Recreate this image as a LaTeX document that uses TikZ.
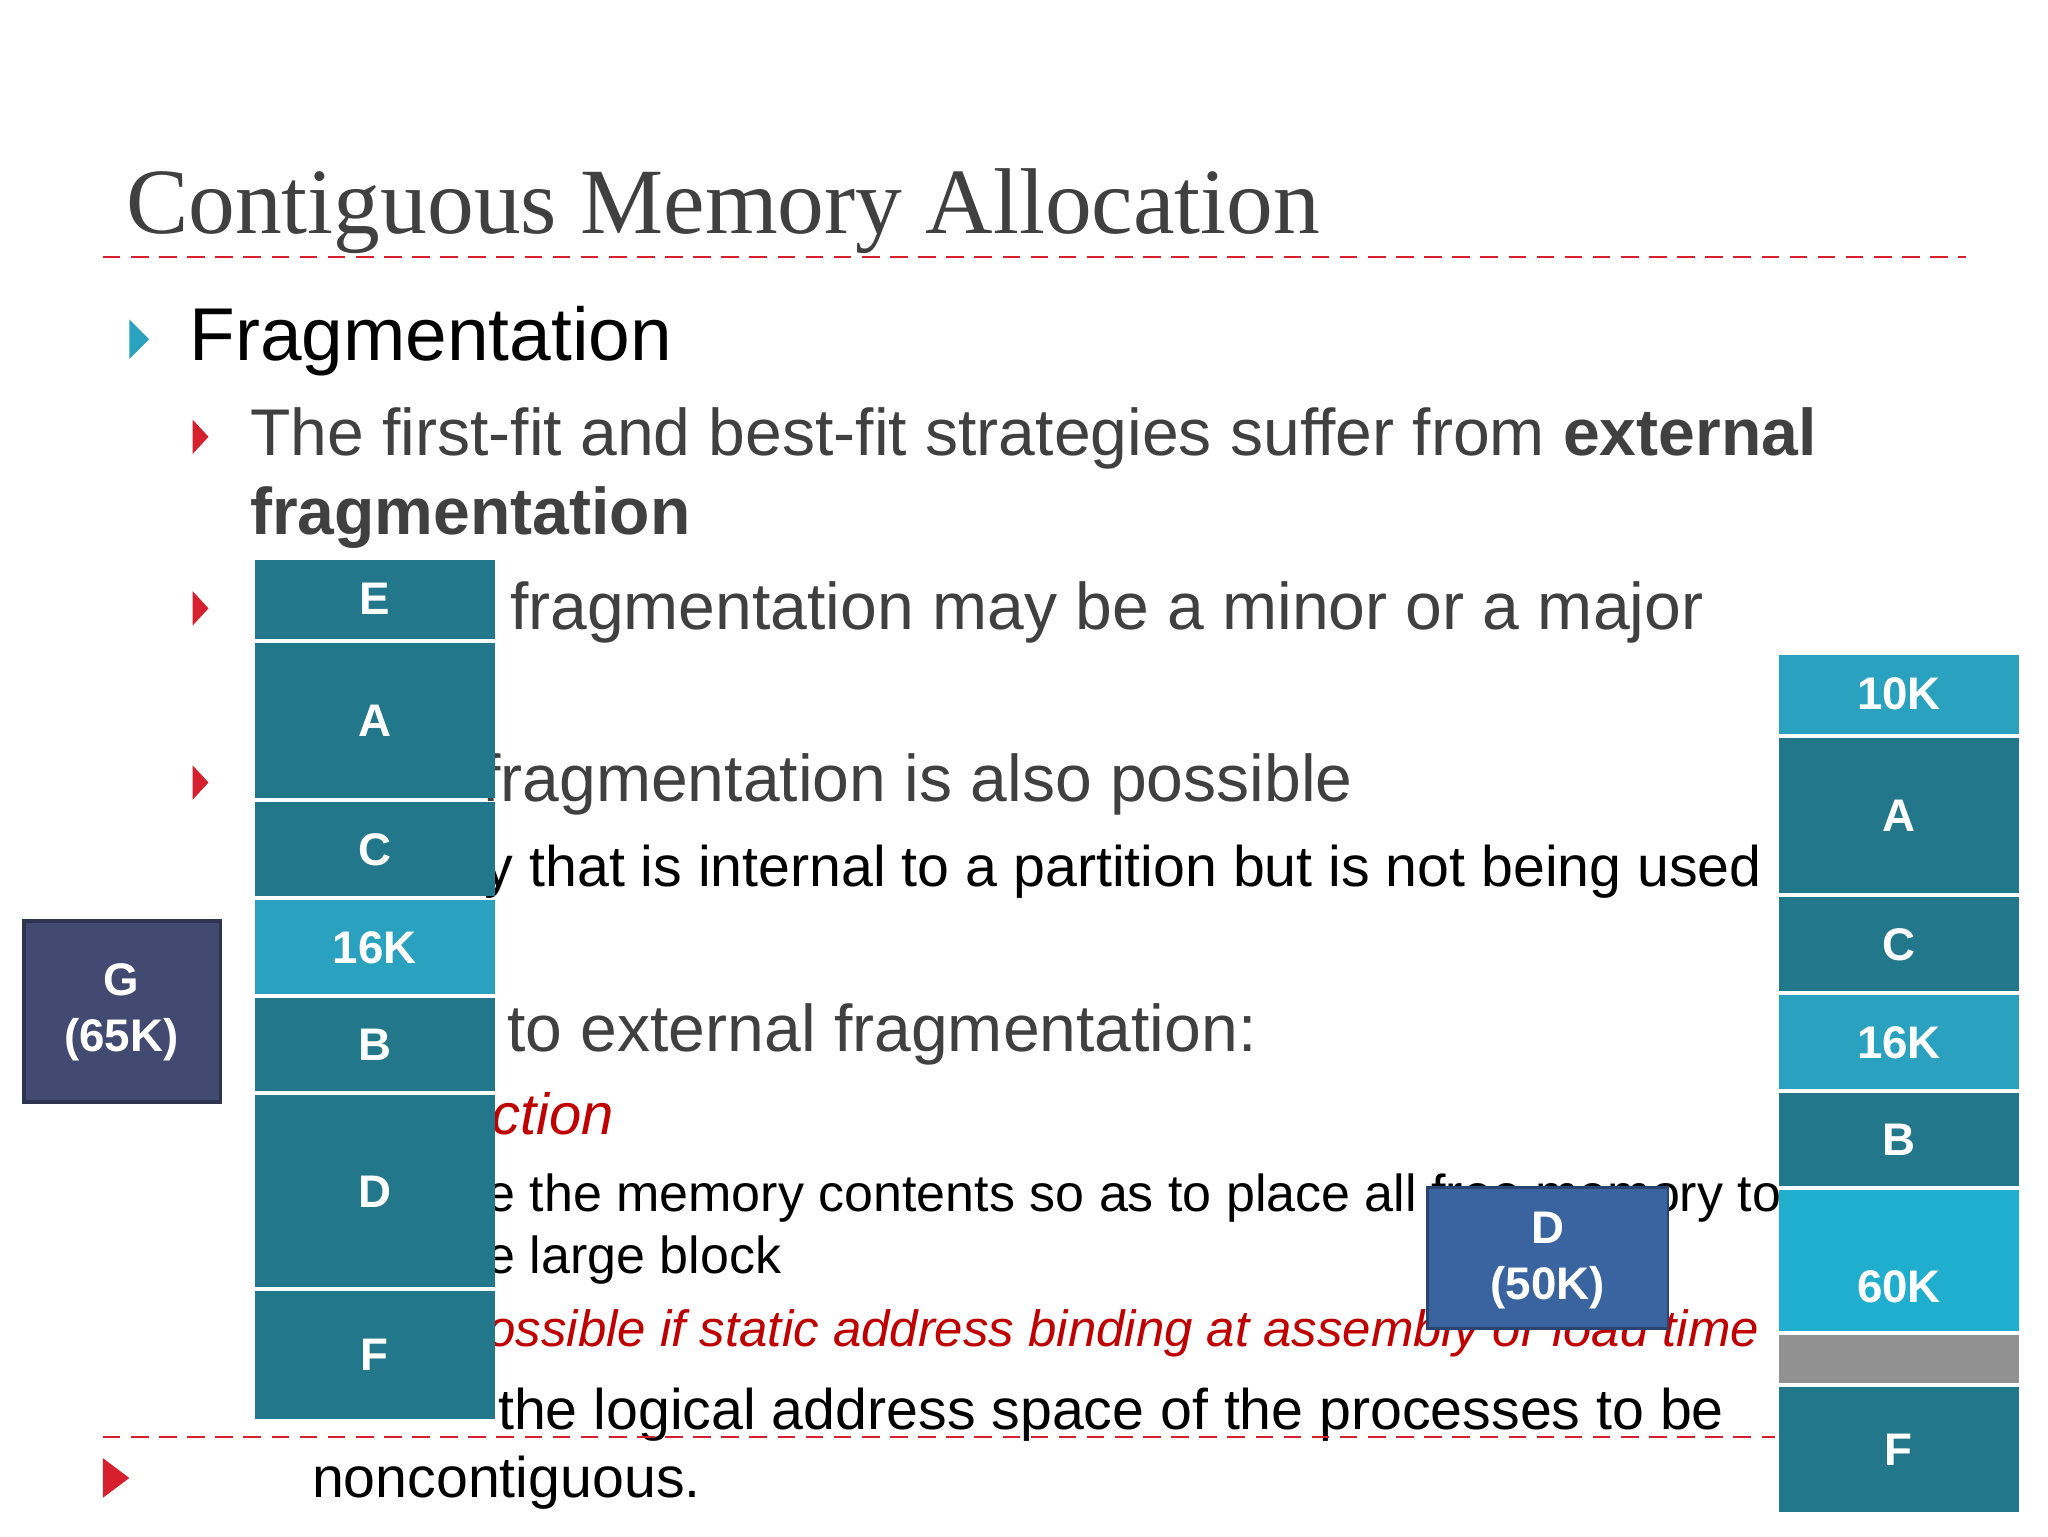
\documentclass[tikz,border=0pt]{standalone}
\usepackage{fontspec}
\setmainfont{Liberation Sans}
\newfontfamily\titlefont{Liberation Serif}
\definecolor{dteal}{HTML}{22788A}
\definecolor{lteal}{HTML}{2AA2BF}
\definecolor{bteal}{HTML}{20AECF}
\definecolor{gbox}{HTML}{434A72}
\definecolor{dbox}{HTML}{3A64A0}
\definecolor{redb}{HTML}{D7202E}
\definecolor{gtext}{HTML}{404040}
\definecolor{redt}{HTML}{C00000}
\begin{document}
\begin{tikzpicture}[x=0.013196cm,y=-0.013196cm,
  txt/.style={anchor=base west,inner sep=0pt},
  lbl/.style={text=white,font=\bfseries\fontsize{13}{16}\selectfont,align=center},
  rtri/.style={fill=redb,draw=none},
  big/.style={font=\fontsize{18.8}{23}\selectfont}]
\useasboundingbox (0,0) rectangle (1552,1164);
\fill[white] (0,0) rectangle (1552,1164);
% title
\node[txt,text=gtext,font=\titlefont\fontsize{26.6}{30}\selectfont] (title) at (95,177) {Contiguous Memory Allocation};
\draw[redb,dashed,dash pattern=on 5pt off 3pt,line width=0.5pt] (78,195) -- (1490,195);
% bullets
\fill[fill=lteal] (98,242) -- (113,257) -- (98,272) -- cycle;
\node[txt,font=\fontsize{21.3}{26}\selectfont] (l1) at (143,273) {Fragmentation};
\fill[rtri] (146,318) -- (158,331) -- (146,344) -- cycle;
\node[txt,text=gtext,big] (l2) at (189,345) {The first-fit and best-fit strategies suffer from \textbf{external}};
\node[txt,text=gtext,big] (l2b) at (189,405) {\textbf{fragmentation}};
\fill[rtri] (146,448) -- (158,461) -- (146,474) -- cycle;
\node[txt,text=gtext,big] (l3) at (386,477) {fragmentation may be a minor or a major};
\fill[rtri] (146,580) -- (158,593) -- (146,606) -- cycle;
\node[txt,text=gtext,big] (l4) at (365,607) {fragmentation is also possible};
\node[txt,font=\fontsize{16.3}{20}\selectfont] (l5) at (367,672) {y that is internal to a partition but is not being used};
\node[txt,text=gtext,big] (l6) at (384,797) {to external fragmentation:};
\node[txt,text=redt,font=\itshape\fontsize{16.5}{20}\selectfont] (l7) at (372,860) {ction};
\node[txt,font=\fontsize{14.8}{18}\selectfont] (l8) at (368,918) {e the memory contents so as to place all free memory to};
\node[txt,font=\fontsize{14.8}{18}\selectfont] (l9) at (368,965) {e large block};
\node[txt,text=redt,font=\itshape\fontsize{14.5}{18}\selectfont] (l10) at (369,1020) {ossible if static address binding at assembly or load time};
\node[txt,font=\fontsize{16.3}{20}\selectfont] (l11) at (377,1083) {the logical address space of the processes to be};
\draw[redb,dashed,dash pattern=on 5pt off 3pt,line width=0.5pt] (78,1089) -- (1345,1089);
\fill[rtri] (78,1105) -- (98,1120) -- (78,1135) -- cycle;
\node[txt,font=\fontsize{16.3}{20}\selectfont] (l12) at (236,1135) {noncontiguous.};
% left column
\fill[dteal] (193,424) rectangle (375,484); \node[lbl] (le) at (284,454) {E};
\fill[dteal] (193,487) rectangle (375,605); \node[lbl] (la) at (284,546) {A};
\fill[dteal] (193,608) rectangle (375,679); \node[lbl] (lc) at (284,644) {C};
\fill[lteal] (193,682) rectangle (375,753); \node[lbl] (l16) at (284,718) {16K};
\fill[dteal] (193,756) rectangle (375,827); \node[lbl] (lb) at (284,792) {B};
\fill[dteal] (193,830) rectangle (375,975); \node[lbl] (ld) at (284,903) {D};
\fill[dteal] (193,978) rectangle (375,1075); \node[lbl] (lf) at (284,1027) {F};
% G
\filldraw[fill=gbox,draw=gbox!70!black,line width=1pt] (18,698) rectangle (167,835);
\node[lbl] (g) at (92,767) {G\\(65K)};
% right column
\fill[lteal] (1348,496) rectangle (1530,556); \node[lbl] (r10) at (1439,526) {10K};
\fill[dteal] (1348,559) rectangle (1530,677); \node[lbl] (ra) at (1439,618) {A};
\fill[dteal] (1348,680) rectangle (1530,751); \node[lbl] (rc) at (1439,716) {C};
\fill[lteal] (1348,754) rectangle (1530,825); \node[lbl] (r16) at (1439,790) {16K};
\fill[dteal] (1348,828) rectangle (1530,899); \node[lbl] (rb) at (1439,864) {B};
\fill[bteal] (1348,902) rectangle (1530,1009); \node[lbl] (r60) at (1439,975) {60K};
\fill[black!43] (1348,1012) rectangle (1530,1048);
\fill[dteal] (1348,1051) rectangle (1530,1146); \node[lbl] (rf) at (1439,1099) {F};
% D (50K)
\filldraw[fill=dbox,draw=dbox!70!black,line width=0.8pt] (1082,900) rectangle (1264,1007);
\node[lbl] (d50) at (1173,955) {D\\(50K)};
\end{tikzpicture}
\end{document}
